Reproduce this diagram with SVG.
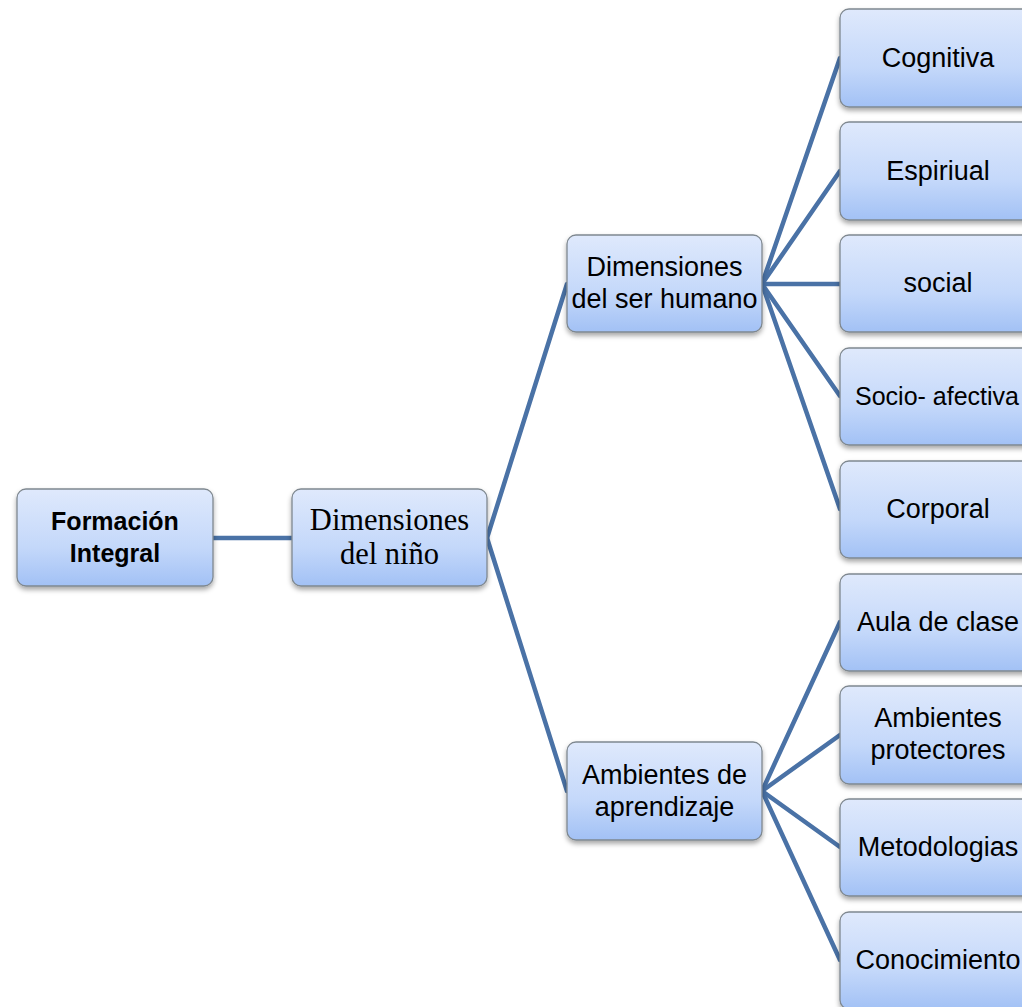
<svg xmlns="http://www.w3.org/2000/svg" width="1022" height="1007" viewBox="0 0 1022 1007">
<defs>
<linearGradient id="g" x1="0" y1="0" x2="0" y2="1">
<stop offset="0" stop-color="#dfe9fc"/>
<stop offset="0.6" stop-color="#c4d8fa"/>
<stop offset="1" stop-color="#a2c1f5"/>
</linearGradient>
<filter id="sh" x="-10%" y="-10%" width="130%" height="140%">
<feDropShadow dx="0" dy="3" stdDeviation="2.5" flood-color="#000" flood-opacity="0.35"/>
</filter>
</defs>
<style>
.box{fill:url(#g);stroke:#7f8890;stroke-width:1.3;filter:url(#sh)}
.t{font-family:"Liberation Sans",Arial,sans-serif;font-size:27px;fill:#000;text-anchor:middle}
.b{font-weight:bold;font-size:25px}
.s{font-family:"Liberation Serif","Times New Roman",serif;font-size:30.5px}
.c{stroke:#4a72a6;stroke-width:4.5;fill:none;stroke-linecap:round}
</style>
<rect width="1022" height="1007" fill="#fff"/>
<g id="connectors" class="c">
<line x1="213" y1="538" x2="292" y2="538"/>
<line x1="487" y1="538" x2="567" y2="284"/>
<line x1="487" y1="538" x2="567" y2="791"/>
<line x1="762" y1="284" x2="840" y2="58"/>
<line x1="762" y1="284" x2="840" y2="171"/>
<line x1="762" y1="284" x2="840" y2="284"/>
<line x1="762" y1="284" x2="840" y2="396"/>
<line x1="762" y1="284" x2="840" y2="509"/>
<line x1="762" y1="791" x2="840" y2="622"/>
<line x1="762" y1="791" x2="840" y2="735"/>
<line x1="762" y1="791" x2="840" y2="847"/>
<line x1="762" y1="791" x2="840" y2="960"/>
</g>
<g id="formacion">
<rect class="box" x="17" y="489" width="196" height="97" rx="9"/>
<text class="t b" x="115" y="530">Formación</text>
<text class="t b" x="115" y="562">Integral</text>
</g>
<g id="dim-nino">
<rect class="box" x="292" y="489" width="195" height="97" rx="9"/>
<text class="t s" x="389.5" y="530">Dimensiones</text>
<text class="t s" x="389.5" y="564">del niño</text>
</g>
<g id="dim-ser">
<rect class="box" x="567" y="235" width="195" height="97" rx="9"/>
<text class="t" x="664.5" y="276">Dimensiones</text>
<text class="t" x="664.5" y="308">del ser humano</text>
</g>
<g id="ambientes">
<rect class="box" x="567" y="742" width="195" height="98" rx="9"/>
<text class="t" x="664.5" y="784">Ambientes de</text>
<text class="t" x="664.5" y="816">aprendizaje</text>
</g>
<g id="cognitiva">
<rect class="box" x="840" y="9" width="196" height="98" rx="9"/>
<text class="t" x="938" y="67">Cognitiva</text>
</g>
<g id="espiriual">
<rect class="box" x="840" y="122" width="196" height="98" rx="9"/>
<text class="t" x="938" y="180">Espiriual</text>
</g>
<g id="social">
<rect class="box" x="840" y="235" width="196" height="97" rx="9"/>
<text class="t" x="938" y="292">social</text>
</g>
<g id="socio-afectiva">
<rect class="box" x="840" y="348" width="196" height="97" rx="9"/>
<text class="t" x="937" y="405" style="font-size:25px">Socio- afectiva</text>
</g>
<g id="corporal">
<rect class="box" x="840" y="461" width="196" height="97" rx="9"/>
<text class="t" x="938" y="518">Corporal</text>
</g>
<g id="aula">
<rect class="box" x="840" y="574" width="196" height="97" rx="9"/>
<text class="t" x="938" y="631">Aula de clase</text>
</g>
<g id="protectores">
<rect class="box" x="840" y="686" width="196" height="98" rx="9"/>
<text class="t" x="938" y="727">Ambientes</text>
<text class="t" x="938" y="759">protectores</text>
</g>
<g id="metodologias">
<rect class="box" x="840" y="799" width="196" height="97" rx="9"/>
<text class="t" x="938" y="856">Metodologias</text>
</g>
<g id="conocimiento">
<rect class="box" x="840" y="912" width="196" height="97" rx="9"/>
<text class="t" x="938" y="969">Conocimiento</text>
</g>
</svg>
